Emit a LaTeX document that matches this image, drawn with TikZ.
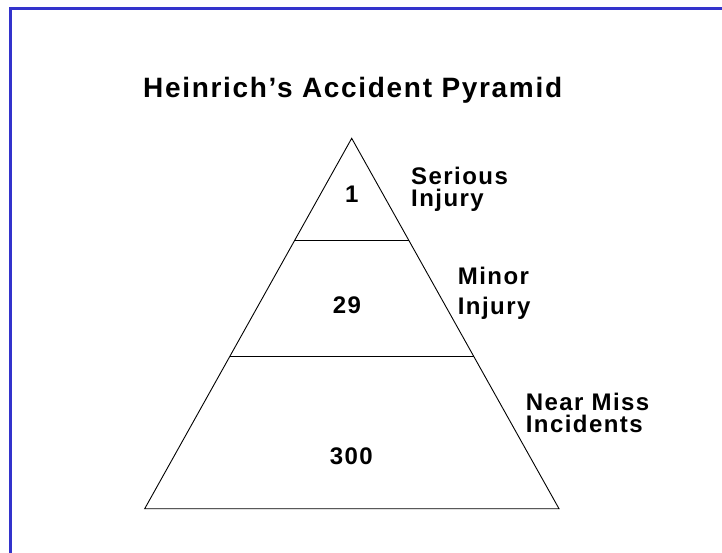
\documentclass[tikz,border=0pt]{standalone}
\usepackage{fontspec}
\setmainfont{Liberation Sans}
\newfontfamily\slidefont[Ligatures=TeX,LetterSpace=6]{Liberation Sans}
\usetikzlibrary{calc}
\definecolor{frameblue}{RGB}{51,51,204}
\tikzset{
  count/.style={font=\slidefont\bfseries\fontsize{24}{24}\selectfont,anchor=base,inner sep=0pt},
  tier/.style={font=\slidefont\bfseries\fontsize{24}{22}\selectfont,align=left,anchor=north west,inner sep=0pt},
}
\begin{document}
\begin{tikzpicture}[x=1pt,y=-1pt]
  \useasboundingbox (0,0) rectangle (722,552);
  \draw[frameblue,line width=3.5pt] (10.5,560) |- (730,8.5);
  \node[anchor=base west,inner sep=0pt,font=\slidefont\bfseries\fontsize{28}{28}\selectfont] (title) at (143,97.5) {Heinrich’s Accident Pyramid};
  % pyramid
  \coordinate (apex) at (351.7,138.3);
  \coordinate (baseL) at (144.7,508.7);
  \coordinate (baseR) at (559,508.7);
  \draw[line width=0.9pt] (baseL) -- (apex) -- (baseR) -- cycle;
  \draw[line width=0.9pt] ($(apex)!0.2765!(baseL)$) -- ($(apex)!0.2765!(baseR)$);
  \draw[line width=0.9pt] ($(apex)!0.5897!(baseL)$) -- ($(apex)!0.5897!(baseR)$);
  % counts
  \node[count] (serious) at (351.7,202) {1};
  \node[count] (minor) at (347,313) {29};
  \node[count] (nearmiss) at (351.3,464) {300};
  % tier labels
  \node[tier] (seriouslbl) at (411,166.7) {Serious\\Injury};
  \node[tier,font=\slidefont\bfseries\fontsize{24}{30}\selectfont] (minorlbl) at (457.7,266.7) {Minor\\Injury};
  \node[tier,font=\slidefont\bfseries\fontsize{24}{22.3}\selectfont] (nearmisslbl) at (525.7,392.7) {Near Miss\\Incidents};
\end{tikzpicture}
\end{document}
